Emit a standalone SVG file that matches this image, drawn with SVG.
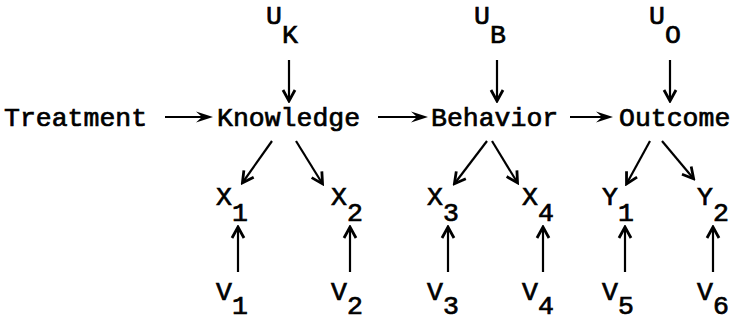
<svg xmlns="http://www.w3.org/2000/svg" width="731" height="321" viewBox="0 0 731 321">
<style>
text{font-family:"Liberation Mono","Courier New",monospace;font-size:26.5px;fill:#000;stroke:#000;stroke-width:0.7px}
.c line{stroke:#000;stroke-width:2.2px;fill:none}
.h{marker-end:url(#hd)}
.v{marker-end:url(#vh)}
</style>
<defs>
<marker id="hd" viewBox="-18 -7 20 14" refX="-8" refY="0" markerWidth="20" markerHeight="14" markerUnits="userSpaceOnUse" orient="auto"><path d="M0,0 L-17,-5.5 L-11,0 L-17,5.5 Z" fill="#000"/></marker>
<marker id="vh" viewBox="-14 -8 16 16" refX="-1" refY="0" markerWidth="16" markerHeight="16" markerUnits="userSpaceOnUse" orient="auto"><path d="M-11,-6 L0,0 L-11,6" fill="none" stroke="#000" stroke-width="2.8" stroke-linejoin="miter"/></marker>
</defs>
<g id="treatment"><text x="4" y="126">Treatment</text></g>
<g id="knowledge"><text x="217" y="126">Knowledge</text></g>
<g id="behavior"><text x="431" y="126">Behavior</text></g>
<g id="outcome"><text x="619" y="126">Outcome</text></g>
<g id="uk"><text x="266" y="24">U<tspan x="282" y="43">K</tspan></text></g>
<g id="ub"><text x="474" y="24">U<tspan x="490" y="43">B</tspan></text></g>
<g id="uo"><text x="649" y="24">U<tspan x="665" y="43">O</tspan></text></g>
<g id="x1"><text x="216" y="205">X<tspan x="232" y="221">1</tspan></text></g>
<g id="x2"><text x="331" y="205">X<tspan x="347" y="221">2</tspan></text></g>
<g id="x3"><text x="427" y="205">X<tspan x="443" y="221">3</tspan></text></g>
<g id="x4"><text x="522" y="205">X<tspan x="538" y="221">4</tspan></text></g>
<g id="y1"><text x="602" y="205">Y<tspan x="618" y="221">1</tspan></text></g>
<g id="y2"><text x="697" y="205">Y<tspan x="713" y="221">2</tspan></text></g>
<g id="v1"><text x="216" y="300">V<tspan x="232" y="314">1</tspan></text></g>
<g id="v2"><text x="331" y="300">V<tspan x="347" y="314">2</tspan></text></g>
<g id="v3"><text x="427" y="300">V<tspan x="443" y="314">3</tspan></text></g>
<g id="v4"><text x="522" y="300">V<tspan x="538" y="314">4</tspan></text></g>
<g id="v5"><text x="602" y="300">V<tspan x="618" y="314">5</tspan></text></g>
<g id="v6"><text x="697" y="300">V<tspan x="713" y="314">6</tspan></text></g>
<g id="connectors" class="c">
<line class="h" x1="165" y1="117" x2="205" y2="117"/>
<line class="h" x1="378" y1="117" x2="420" y2="117"/>
<line class="h" x1="570" y1="117" x2="605" y2="117"/>
<line class="v" x1="289" y1="60" x2="289" y2="100"/>
<line class="v" x1="497" y1="60" x2="497" y2="100"/>
<line class="v" x1="670" y1="60" x2="670" y2="100"/>
<line class="v" x1="272" y1="141" x2="243" y2="182"/>
<line class="v" x1="296" y1="141" x2="322" y2="183"/>
<line class="v" x1="487" y1="141" x2="455" y2="183"/>
<line class="v" x1="492" y1="141" x2="517" y2="182"/>
<line class="v" x1="650" y1="141" x2="627" y2="183"/>
<line class="v" x1="662" y1="141" x2="693" y2="178"/>
<line class="v" x1="238" y1="272" x2="238" y2="228"/>
<line class="v" x1="350" y1="272" x2="350" y2="228"/>
<line class="v" x1="448" y1="272" x2="448" y2="228"/>
<line class="v" x1="543" y1="272" x2="543" y2="228"/>
<line class="v" x1="625" y1="272" x2="625" y2="228"/>
<line class="v" x1="713" y1="272" x2="713" y2="228"/>
</g>
</svg>
